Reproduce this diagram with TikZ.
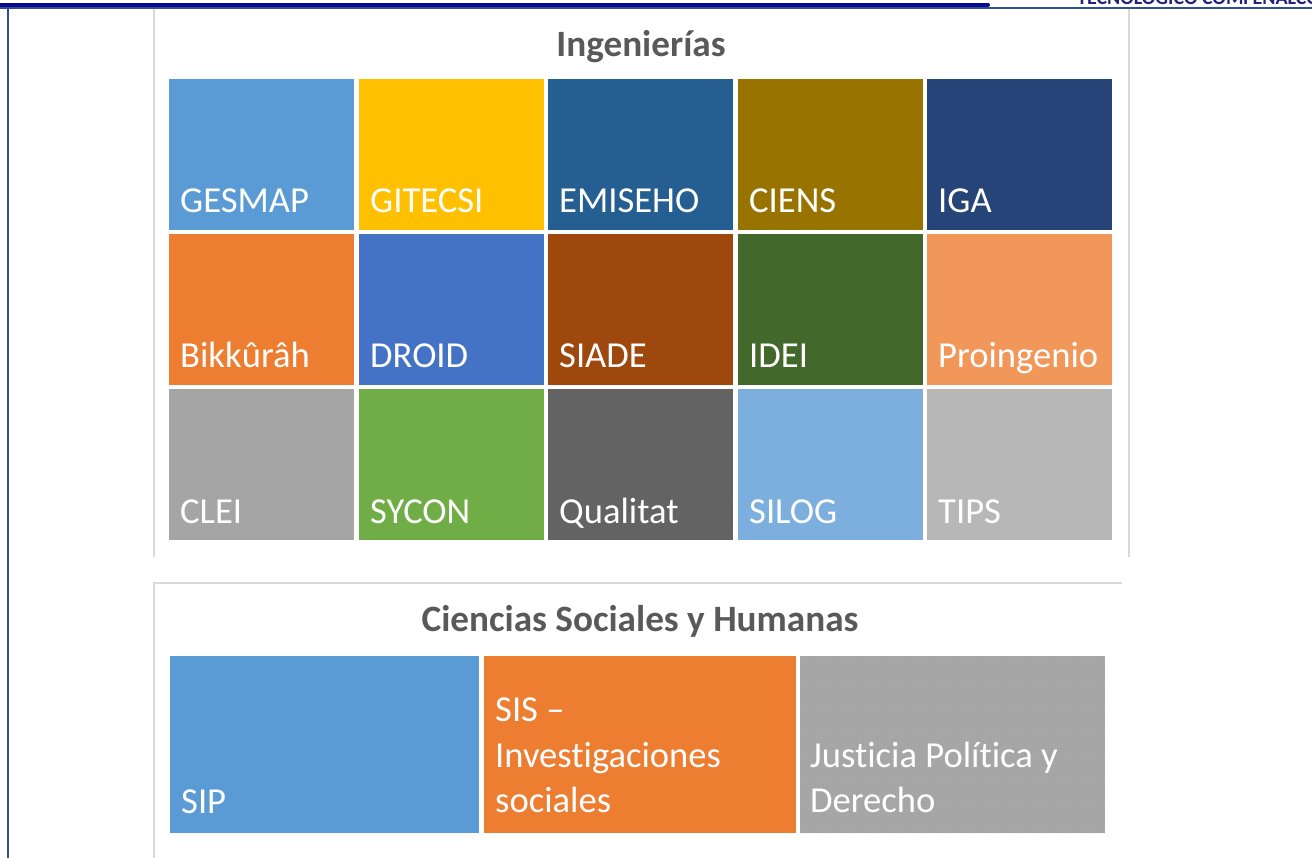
\documentclass[tikz,border=0pt]{standalone}
\usepackage{fontspec}
\setmainfont{Carlito}[Ligatures=NoCommon]
\usetikzlibrary{patterns}
\definecolor{blueA}{HTML}{5B9BD5}
\definecolor{goldA}{HTML}{FFC000}
\definecolor{blueB}{HTML}{255E91}
\definecolor{oliveA}{HTML}{997300}
\definecolor{navyA}{HTML}{264478}
\definecolor{orangeA}{HTML}{ED7D31}
\definecolor{blueC}{HTML}{4472C4}
\definecolor{brownA}{HTML}{9E480E}
\definecolor{greenA}{HTML}{43682B}
\definecolor{orangeB}{HTML}{F1975A}
\definecolor{grayA}{HTML}{A5A5A5}
\definecolor{greenB}{HTML}{70AD47}
\definecolor{grayB}{HTML}{636363}
\definecolor{blueD}{HTML}{7CAFDD}
\definecolor{grayC}{HTML}{B7B7B7}
\definecolor{titlegray}{HTML}{595959}
\definecolor{framegray}{HTML}{D9D9D9}
\definecolor{dotgray}{HTML}{B8B8B8}
\definecolor{headnavy}{HTML}{0A0A96}
\definecolor{headblue}{HTML}{2F4F8F}
\definecolor{brandblue}{HTML}{23237E}
\begin{document}
\begin{tikzpicture}[x=1pt, y=-1pt,
  tile/.style={rectangle, anchor=north west, inner sep=0pt, outer sep=0pt, minimum width=185pt, minimum height=151pt},
  tiletext/.style={anchor=base west, inner sep=0pt, text=white, align=left, font=\fontsize{36.6}{45.5}\selectfont},
  heading/.style={inner sep=0pt, anchor=base, text=titlegray, font=\fontsize{37.2}{44}\selectfont\bfseries}]
\useasboundingbox (0,0) rectangle (1312,858);
\clip (0,0) rectangle (1312,858);
% page header
\node[anchor=base west, inner sep=0pt, text=brandblue, font=\fontsize{20}{24}\selectfont\bfseries] (brand) at (1077,5) {TECNOLÓGICO COMFENALCO};
\draw[headnavy, line width=4pt, line cap=round] (0,4.7) -- (988,4.7);
\draw[headblue, line width=2pt] (0,8.5) -- (1312,8.5);
\draw[headblue, line width=2pt] (8,8.5) -- (8,858);
% panel frames
\draw[framegray, line width=1.5pt] (154,9) -- (154,557);
\draw[framegray, line width=1.5pt] (1129,9) -- (1129,557);
\draw[framegray, line width=1.5pt] (153,583) -- (1122,583);
\draw[framegray, line width=1.5pt] (154,583) -- (154,858);
% Ingenierias
\node[heading] (ing) at (641,57) {Ingenierías};
\node[tile, fill=blueA] (gesmap) at (169,79) {};
\node[tiletext] (gesmaplbl) at ([shift={(11,-17)}]gesmap.south west) {GESMAP};
\node[tile, fill=goldA] (gitecsi) at (359,79) {};
\node[tiletext] (gitecsilbl) at ([shift={(11,-17)}]gitecsi.south west) {GITECSI};
\node[tile, fill=blueB] (emiseho) at (548,79) {};
\node[tiletext] (emisehobl) at ([shift={(11,-17)}]emiseho.south west) {EMISEHO};
\node[tile, fill=oliveA] (ciens) at (738,79) {};
\node[tiletext] (cienslbl) at ([shift={(11,-17)}]ciens.south west) {CIENS};
\node[tile, fill=navyA] (iga) at (927,79) {};
\node[tiletext] (igalbl) at ([shift={(11,-17)}]iga.south west) {IGA};
\node[tile, fill=orangeA] (bikkurah) at (169,234) {};
\node[tiletext] (bikkurahlbl) at ([shift={(11,-17)}]bikkurah.south west) {Bikkûrâh};
\node[tile, fill=blueC] (droid) at (359,234) {};
\node[tiletext] (droidlbl) at ([shift={(11,-17)}]droid.south west) {DROID};
\node[tile, fill=brownA] (siade) at (548,234) {};
\node[tiletext] (siadelbl) at ([shift={(11,-17)}]siade.south west) {SIADE};
\node[tile, fill=greenA] (idei) at (738,234) {};
\node[tiletext] (ideilbl) at ([shift={(11,-17)}]idei.south west) {IDEI};
\node[tile, fill=orangeB] (proingenio) at (927,234) {};
\node[tiletext] (proingeniolbl) at ([shift={(11,-17)}]proingenio.south west) {Proingenio};
\node[tile, fill=grayA] (clei) at (169,389) {};
\node[tiletext] (cleilbl) at ([shift={(11,-17)}]clei.south west) {CLEI};
\node[tile, fill=greenB] (sycon) at (359,389) {};
\node[tiletext] (syconlbl) at ([shift={(11,-17)}]sycon.south west) {SYCON};
\node[tile, fill=grayB] (qualitat) at (548,389) {};
\node[tiletext] (qualitatlbl) at ([shift={(11,-17)}]qualitat.south west) {Qualitat};
\node[tile, fill=blueD] (silog) at (738,389) {};
\node[tiletext] (siloglbl) at ([shift={(11,-17)}]silog.south west) {SILOG};
\node[tile, fill=grayC] (tips) at (927,389) {};
\node[tiletext] (tipslbl) at ([shift={(11,-17)}]tips.south west) {TIPS};
% Ciencias Sociales y Humanas
\node[heading] (csh) at (640,631) {Ciencias Sociales y Humanas};
\node[tile, fill=blueA, minimum width=309pt, minimum height=177pt] (sip) at (170,656) {};
\node[tiletext] (siplbl) at ([shift={(11,-20)}]sip.south west) {SIP};
\node[tile, fill=orangeA, minimum width=312pt, minimum height=177pt] (sis) at (484,656) {};
\node[tiletext, anchor=south west] (sislbl) at ([shift={(11,-20)}]sis.south west) {SIS --\\Investigaciones\\sociales};
\node[tile, fill=grayA, minimum width=305pt, minimum height=177pt, postaction={pattern=dots, pattern color=dotgray}] (jpd) at (800,656) {};
\node[tiletext, anchor=south west] (jpdlbl) at ([shift={(10,-20)}]jpd.south west) {Justicia Política y\\Derecho};
\end{tikzpicture}
\end{document}
